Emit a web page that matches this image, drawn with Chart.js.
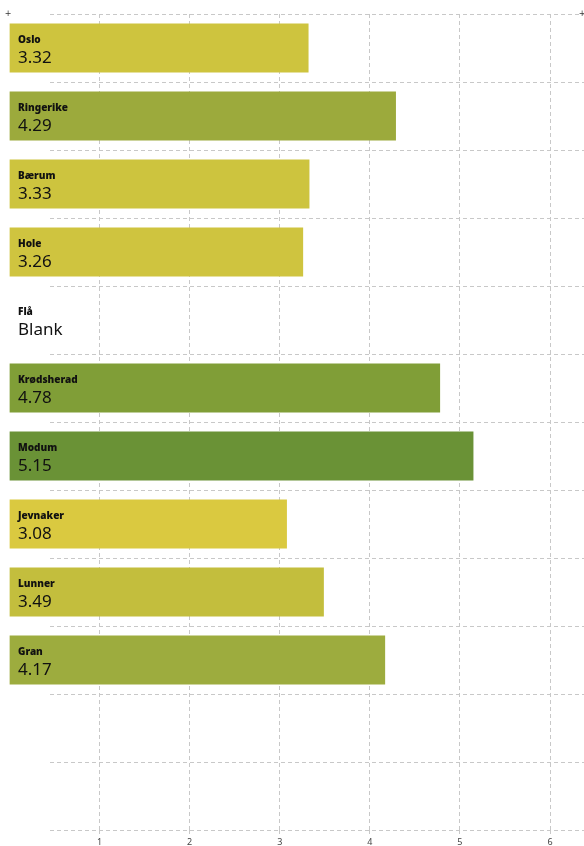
<!DOCTYPE html>
<html>
<head>
<meta charset="utf-8">
<script src="https://cdn.jsdelivr.net/npm/chart.js@4/dist/chart.umd.min.js"></script>
<style>
  html, body { margin: 0; padding: 0; background: #fff; }
  #wrap { width: 584px; height: 846px; position: relative; }
</style>
</head>
<body>
<div id="wrap"><canvas id="chart"></canvas></div>
<script>
// municipalities, top to bottom (two empty rows at the end)
const places = ['Oslo', 'Ringerike', 'Bærum', 'Hole', 'Flå', 'Krødsherad', 'Modum', 'Jevnaker', 'Lunner', 'Gran'];
const values = [3.32, 4.29, 3.33, 3.26, null, 4.78, 5.15, 3.08, 3.49, 4.17];
const barColors = ['#cec43e', '#9caa3c', '#cdc43e', '#cfc43f', '#ffffff', '#809e37', '#6a9236', '#dac940', '#c3be3d', '#9dac3e'];
const xTicks = [1, 2, 3, 4, 5, 6];
const rowLabels = places.concat(['', '']);

const gridColor = '#c8c8c8';

// dashed row separators, starting a bit in from the left
const rowLines = {
  id: 'rowLines',
  beforeDatasetsDraw(chart) {
    const { ctx, chartArea, scales } = chart;
    const y = scales.y;
    ctx.save();
    ctx.strokeStyle = gridColor;
    ctx.lineWidth = 1;
    ctx.setLineDash([4, 3]);
    for (let i = 0; i <= rowLabels.length; i++) {
      const py = Math.round(y.getPixelForValue(i - 0.5)) + 0.5;
      ctx.beginPath();
      ctx.moveTo(50, py);
      ctx.lineTo(chartArea.right, py);
      ctx.stroke();
    }
    ctx.restore();
  }
};

// name + value written inside each bar
const barText = {
  id: 'barText',
  afterDraw(chart) {
    const { ctx, chartArea, scales } = chart;
    ctx.save();
    ctx.fillStyle = '#111';
    ctx.textBaseline = 'middle';
    ctx.textAlign = 'left';
    places.forEach((name, i) => {
      const cy = scales.y.getPixelForValue(i);
      ctx.font = '900 10px "Noto Sans"';
      ctx.fillText(name, 18, cy - 8);
      ctx.font = '17px "Noto Sans"';
      ctx.fillText(values[i] == null ? 'Blank' : values[i].toFixed(2), 18, cy + 10);
    });
    // small corner marks
    ctx.fillStyle = '#333';
    ctx.font = '8px "DejaVu Sans"';
    ctx.textAlign = 'center';
    ctx.fillText('+', 8, chartArea.top);
    ctx.fillText('+', chartArea.right - 2, chartArea.top);
    ctx.restore();
  }
};

new Chart(document.getElementById('chart'), {
  type: 'bar',
  data: {
    labels: rowLabels,
    datasets: [{
      data: values,
      backgroundColor: barColors,
      borderWidth: 0,
      barPercentage: 0.72,
      categoryPercentage: 1
    }]
  },
  options: {
    indexAxis: 'y',
    responsive: true,
    maintainAspectRatio: false,
    animation: false,
    layout: { padding: { top: 14, left: 9.4, right: 0, bottom: 0 } },
    plugins: { legend: { display: false }, tooltip: { enabled: false } },
    scales: {
      y: { display: false },
      x: {
        min: 0,
        max: 6.377,
        z: 1,
        afterBuildTicks(scale) { scale.ticks = xTicks.map(v => ({ value: v })); },
        afterFit(scale) { scale.height = 16; },
        border: { display: false, dash: [4, 3] },
        grid: {
          color: gridColor,
          tickColor: gridColor,
          tickLength: 6,
          tickBorderDash: [4, 3]
        },
        ticks: {
          padding: 1,
          color: '#444',
          font: { size: 9, family: '"Noto Sans"' }
        }
      }
    }
  },
  plugins: [rowLines, barText]
});
</script>
</body>
</html>
